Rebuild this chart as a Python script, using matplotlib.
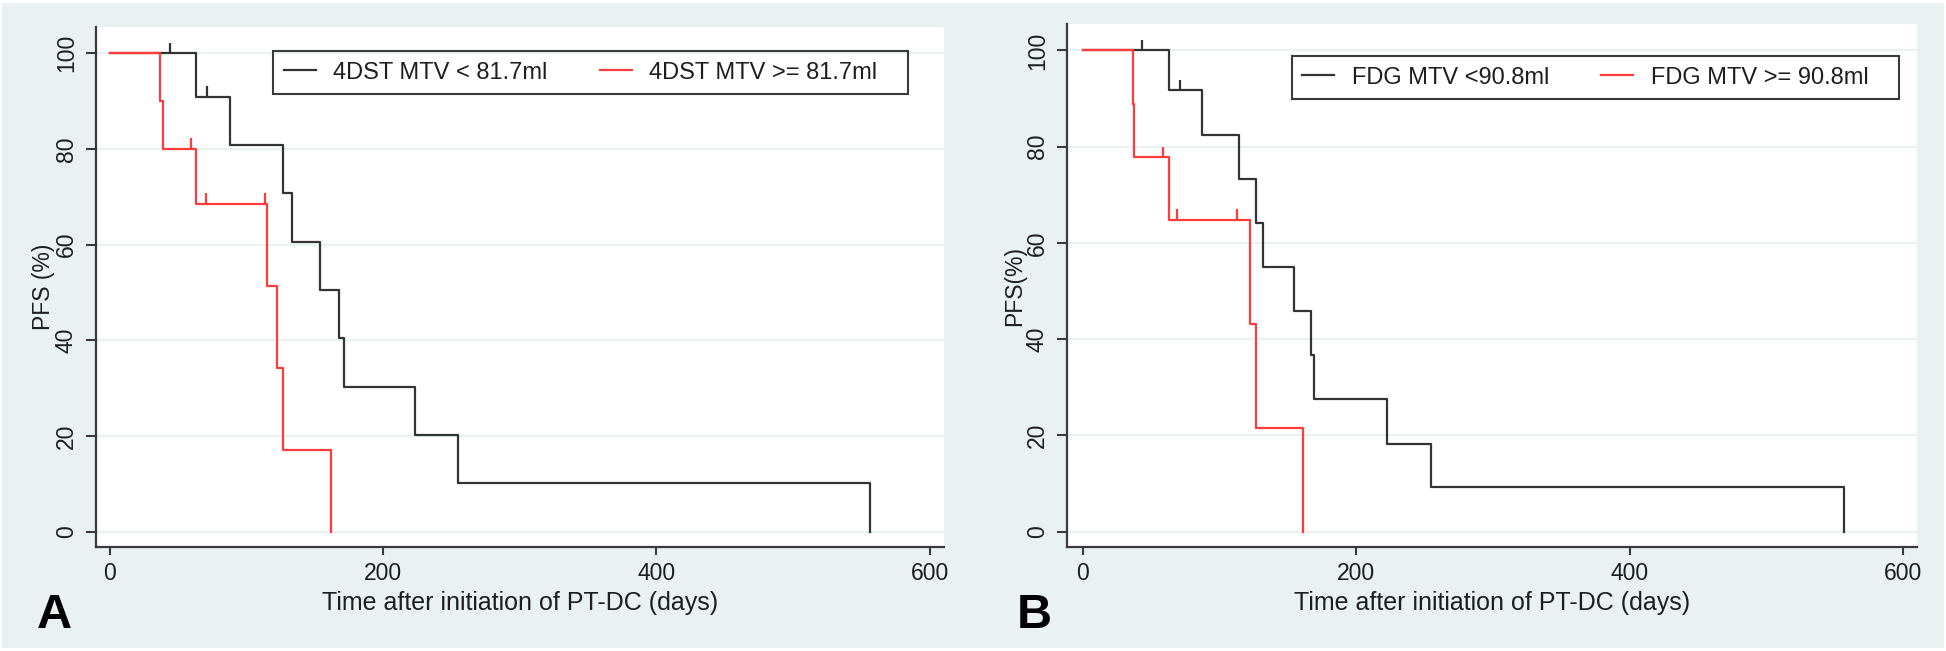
import matplotlib.pyplot as plt
from matplotlib.patches import Rectangle

plt.rcParams['font.family'] = ['Liberation Sans', 'DejaVu Sans']

# Kaplan-Meier step data (days, PFS %)
a_low_t = [0, 63, 88, 127, 133, 154, 168, 171, 223, 255, 556]
a_low_s = [100, 90.9, 80.8, 70.7, 60.6, 50.5, 40.4, 30.3, 20.2, 10.1, 0]
a_low_cens_t = [44, 71]
a_low_cens_s = [100, 90.9]

a_high_t = [0, 37, 38.5, 63, 115, 122.5, 126.5, 162]
a_high_s = [100, 90, 80, 68.6, 51.4, 34.3, 17.1, 0]
a_high_cens_t = [59, 70, 113.5]
a_high_cens_s = [80, 68.6, 68.6]

b_low_t = [0, 63.4, 87, 114, 126.6, 132, 154.6, 167.3, 169.5, 222.4, 255, 556.5]
b_low_s = [100, 91.7, 82.5, 73.3, 64.2, 55.0, 45.8, 36.7, 27.5, 18.3, 9.2, 0]
b_low_cens_t = [43.6, 71.5]
b_low_cens_s = [100, 91.7]

b_high_t = [0, 36.6, 37.5, 63.4, 122, 126.6, 161.4]
b_high_s = [100, 88.9, 77.8, 64.8, 43.2, 21.6, 0]
b_high_cens_t = [58.5, 69, 112.7]
b_high_cens_s = [77.8, 64.8, 64.8]

x_ticks = [0, 200, 400, 600]
y_ticks = [0, 20, 40, 60, 80, 100]

W, H = 1946, 651
fig = plt.figure(figsize=(W / 100, H / 100), dpi=100)
fig.patch.set_facecolor('white')
fig.add_artist(Rectangle((2 / W, 3 / H), 1942 / W, 645 / H, transform=fig.transFigure,
                         facecolor='#E9F1F3', edgecolor='none', zorder=0))

BLACK = '#333333'
RED = '#FF3B3B'
AX = '#3a3a3a'
TXT = '#1e1e1e'


def km_panel(rect, low, high, labels, ylabel, letter, letter_x, legend_x, legend_y, xlim, extra):
    ax = fig.add_axes(rect)
    ax.set_facecolor('white')
    for t, s, ct, cs, col in [low + (BLACK,), high + (RED,)]:
        ax.step(t, s, where='post', color=col, lw=1.6, zorder=3)
        ax.vlines(ct, cs, [v + 2.2 for v in cs], color=col, lw=1.6, zorder=3)
    ax.plot([], [], color=BLACK, lw=1.6, label=labels[0])
    ax.plot([], [], color=RED, lw=1.6, label=labels[1])

    ax.set_xlim(*xlim)
    ax.set_ylim(-3.2, 105.5)
    ax.set_xticks(x_ticks)
    ax.set_yticks(y_ticks)
    ax.set_yticklabels([str(v) for v in y_ticks], rotation=90, va='center')
    ax.yaxis.grid(True, color='#EAF1F3', lw=1.6)
    ax.set_axisbelow(True)
    for side in ['top', 'right']:
        ax.spines[side].set_visible(False)
    for side in ['left', 'bottom']:
        ax.spines[side].set_color(AX)
        ax.spines[side].set_linewidth(1.6)
    ax.tick_params(axis='y', length=7, width=1.5, color=AX, pad=6, labelsize=16.5, labelcolor=TXT)
    ax.tick_params(axis='x', length=6, width=1.5, color=AX, pad=5, labelsize=16.5, labelcolor=TXT)
    ax.set_xlabel('Time after initiation of PT-DC (days)', fontsize=18, color=TXT, labelpad=4)
    ax.set_ylabel(ylabel, fontsize=16.5, color=TXT, labelpad=0)

    leg = ax.legend(loc='upper left', bbox_to_anchor=(legend_x, legend_y), ncol=2,
                    fontsize=17, frameon=False, handlelength=1.35,
                    handletextpad=0.75, columnspacing=2.2, borderpad=0.45, borderaxespad=0)
    for t in leg.get_texts():
        t.set_color(TXT)
    # Stata-style box: a bit wider on the right than the legend content
    fig.canvas.draw()
    bb = leg.get_window_extent()
    fig.add_artist(Rectangle((bb.x0 / W, bb.y0 / H), (bb.width + extra) / W, bb.height / H,
                             transform=fig.transFigure, facecolor='none',
                             edgecolor=AX, lw=1.5, zorder=4))
    fig.text(letter_x / W, 1 - 628 / H, letter, fontsize=35, fontweight='bold',
             ha='left', va='baseline')
    return ax


km_panel([96 / W, 104 / H, 848 / W, 520 / H],
         (a_low_t, a_low_s, a_low_cens_t, a_low_cens_s),
         (a_high_t, a_high_s, a_high_cens_t, a_high_cens_s),
         ['4DST MTV < 81.7ml', '4DST MTV >= 81.7ml'], 'PFS (%)', 'A', 37,
         0.209, 0.954, (-10.2, 610.5), 20)

km_panel([1067 / W, 104 / H, 850 / W, 523 / H],
         (b_low_t, b_low_s, b_low_cens_t, b_low_cens_s),
         (b_high_t, b_high_s, b_high_cens_t, b_high_cens_s),
         ['FDG MTV <90.8ml', 'FDG MTV >= 90.8ml'], 'PFS(%)', 'B', 1017,
         0.2645, 0.939, (-11.5, 610.2), 20)

fig.savefig('out.png', dpi=100, facecolor=fig.get_facecolor())
